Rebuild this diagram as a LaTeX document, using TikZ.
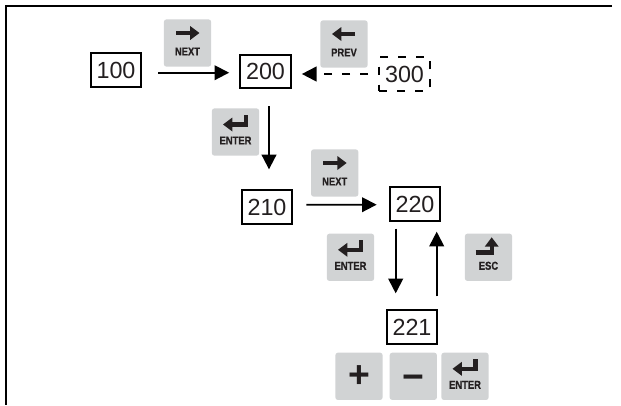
\documentclass[tikz,border=0pt]{standalone}
\usepackage{fontspec}
\setmainfont{Liberation Sans}
\newfontfamily\keyfont[FakeStretch=0.82,FakeBold=0.6]{Liberation Sans}
\usetikzlibrary{arrows.meta}
\definecolor{keygray}{HTML}{D1D3D4}
\definecolor{inkdark}{HTML}{231F20}
\tikzstyle{numbox} = [rectangle, draw=black, line width=1.5pt, minimum width=38pt, minimum height=25pt, inner sep=0pt, font=\fontsize{17.5}{19}\selectfont, text=inkdark]
\tikzstyle{dashbox} = [numbox, dash pattern=on 6pt off 7.5pt]
\tikzstyle{keycap} = [rectangle, rounded corners=2pt, fill=keygray, minimum size=35.5pt, inner sep=0pt]
\tikzstyle{keytext} = [inner sep=0pt, text=inkdark, font=\keyfont\bfseries\fontsize{8.6}{9}\selectfont]
\tikzstyle{keysign} = [inner sep=0pt, text=inkdark, font=\bfseries\fontsize{28}{30}\selectfont]
\tikzstyle{keyarrow} = [draw=inkdark, line width=3.2pt, -{Triangle[length=7pt, width=10pt]}]
\tikzstyle{flow} = [line width=1.4pt, -{Triangle[length=11pt, width=11pt]}]

\begin{document}
\begin{tikzpicture}[x=0.75pt, y=-0.75pt]
\useasboundingbox (0,0) rectangle (621,405);

% frame
\coordinate (frameend) at (612,5.7);
\coordinate (framecorner) at (6,5.7);
\coordinate (framefoot) at (6,405);
\draw [line width=1.7pt] (frameend) -- (framecorner) -- (framefoot);

% values
\node (box100) [numbox] at (116,70) {100};
\node (box200) [numbox] at (265.5,71.5) {200};
\node (box300) [dashbox] at (404.5,74) {300};
\node (box210) [numbox] at (267,207) {210};
\node (box220) [numbox] at (415,204) {220};
\node (box221) [numbox] at (412,327) {221};

% keys
\foreach \keyname/\keyx/\keyy/\keylabel in {next1/187.5/43/NEXT, prev1/344/44/PREV, enter1/235.5/132/ENTER, next2/334.7/173/NEXT, enter2/350.5/257.3/ENTER, esc1/488.5/257.3/ESC, enter3/465/376.3/ENTER} {
  \node (\keyname) [keycap] at (\keyx,\keyy) {};
  \node (\keyname text) [keytext] at ([shift={(0,8.5)}]\keyname.center) {\keylabel};
}
\node (plus1) [keycap] at (359,376.3) {};
\node (minus1) [keycap] at (413.3,376.3) {};
\node (plus1text) [keysign] at (plus1.center) {+};
\node (minus1text) [keysign] at ([shift={(0,6)}]minus1.center) {−};

% key symbols
\foreach \keyname in {next1,next2} {
  \draw [keyarrow] ([shift={(-11.5,-10)}]\keyname.center) -- ([shift={(12,-10)}]\keyname.center);
}
\draw [keyarrow] ([shift={(11,-10)}]prev1.center) -- ([shift={(-12,-10)}]prev1.center);
\foreach \keyname in {enter1,enter2,enter3} {
  \draw [keyarrow] ([shift={(10.5,-17)}]\keyname.center) -- ([shift={(10.5,-7.5)}]\keyname.center) -- ([shift={(-12.5,-7.5)}]\keyname.center);
}
\draw [keyarrow] ([shift={(-13,-4.7)}]esc1.center) -- ([shift={(3.2,-4.7)}]esc1.center) -- ([shift={(3.2,-20)}]esc1.center);

% connectors
\draw [flow] ([shift={(16,2.7)}]box100.east) -- ([shift={(-10,1.2)}]box200.west);
\draw [flow, dash pattern=on 6pt off 7.5pt] ([shift={(-10,0)}]box300.west) -- ([shift={(10,2.5)}]box200.east);
\draw [flow] ([shift={(3.5,17)}]box200.south) -- ([shift={(2,-20)}]box210.north);
\draw [flow] ([shift={(13,-2.3)}]box210.east) -- ([shift={(-12,0.7)}]box220.west);
\draw [flow] ([shift={(-19.3,7)}]box220.south) -- ([shift={(-16.3,-16)}]box221.north);
\draw [flow] ([shift={(24.7,-13)}]box221.north) -- ([shift={(21.7,10)}]box220.south);
\end{tikzpicture}
\end{document}
